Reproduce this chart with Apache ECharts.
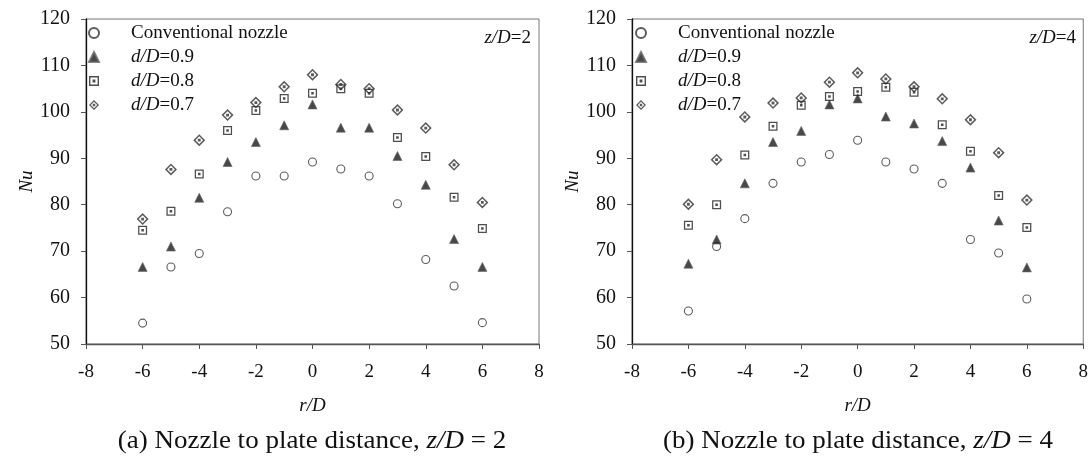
<!DOCTYPE html>
<html style="height: 100%">
<head>
    <meta charset="utf-8">
    <title>Nu vs r/D</title>
    <style>
        body { margin: 0; height: 100%; background: #fff; }
        #main { width: 1091px; height: 462px; }
    </style>
</head>
<body>
<div id="main"></div>
<script src="https://cdn.jsdelivr.net/npm/echarts@6/dist/echarts.min.js"></script>
<script>
    // r/D positions
    const rD = [-6, -5, -4, -3, -2, -1, 0, 1, 2, 3, 4, 5, 6];

    // (a) z/D = 2
    const conv2 = [54.5, 66.6, 69.5, 78.5, 86.2, 86.2, 89.2, 87.7, 86.2, 80.2, 68.2, 62.5, 54.6];
    const d09_2 = [66.6, 71.0, 81.5, 89.2, 93.5, 97.1, 101.6, 96.6, 96.6, 90.5, 84.3, 72.6, 66.6];
    const d08_2 = [74.5, 78.6, 86.6, 96.0, 100.3, 102.9, 104.0, 105.0, 104.0, 94.5, 90.4, 81.6, 74.9];
    const d07_2 = [76.9, 87.6, 93.9, 99.3, 102.0, 105.4, 108.0, 105.9, 105.0, 100.4, 96.5, 88.6, 80.5];

    // (b) z/D = 4
    const conv4 = [57.1, 71.0, 77.0, 84.6, 89.2, 90.8, 93.9, 89.2, 87.7, 84.6, 72.5, 69.6, 59.7];
    const d09_4 = [67.3, 72.5, 84.6, 93.5, 95.9, 101.6, 102.9, 99.0, 97.5, 93.7, 88.0, 76.6, 66.5];
    const d08_4 = [75.6, 80.0, 90.7, 96.9, 101.4, 103.3, 104.4, 105.3, 104.2, 97.2, 91.5, 82.0, 75.1];
    const d07_4 = [80.1, 89.7, 98.9, 101.9, 103.0, 106.4, 108.4, 107.1, 105.4, 102.8, 98.3, 91.2, 81.0];

    const xTicks = [-8, 8, 2];
    const yTicks = [50, 120, 10];
    const seriesNames = ['Conventional nozzle', 'd/D=0.9', 'd/D=0.8', 'd/D=0.7'];

    const FONT = '"Liberation Serif", "DejaVu Serif", serif';

    // hollow square / diamond with a dot in the middle (inner ring wound the other way)
    const squareDot = 'path://M0,0 L10,0 L10,10 L0,10 Z M1.4,1.4 L1.4,8.6 L8.6,8.6 L8.6,1.4 Z M3.6,3.6 L6.4,3.6 L6.4,6.4 L3.6,6.4 Z';
    const diamondDot = 'path://M5,0 L10,5 L5,10 L0,5 Z M5,1.8 L1.8,5 L5,8.2 L8.2,5 Z M3.8,3.8 L6.2,3.8 L6.2,6.2 L3.8,6.2 Z';

    const styles = [
        { symbol: 'circle', size: 8, itemStyle: { color: '#fff', borderColor: '#333', borderWidth: 1.1 } },
        { symbol: 'triangle', size: 9, itemStyle: { color: '#1a1a1a', borderColor: '#666', borderWidth: 0.8 } },
        { symbol: squareDot, size: 9, itemStyle: { color: '#222' } },
        { symbol: diamondDot, size: 12, itemStyle: { color: '#333' } }
    ];

    const pairs = arr => arr.map((v, i) => [rD[i], v]);

    const makeSeries = (sets, idx) => sets.map((arr, k) => ({
        name: seriesNames[k],
        type: 'scatter',
        xAxisIndex: idx,
        yAxisIndex: idx,
        symbol: styles[k].symbol,
        symbolSize: styles[k].size,
        itemStyle: styles[k].itemStyle,
        emphasis: { disabled: true },
        data: pairs(arr)
    }));

    const makeGrid = left => ({
        left: left, top: 19, width: left < 300 ? 453 : 452, height: 325,
        show: true, borderColor: '#777', borderWidth: 1, backgroundColor: 'transparent'
    });

    const makeX = idx => ({
        type: 'value', gridIndex: idx,
        min: xTicks[0], max: xTicks[1], interval: xTicks[2],
        name: 'r/D', nameLocation: 'middle', nameGap: 52,
        nameTextStyle: { fontFamily: FONT, fontSize: 19, fontStyle: 'italic', color: '#111' },
        axisLine: { onZero: false, lineStyle: { color: '#555', width: 1.3 } },
        axisTick: { length: 5, lineStyle: { color: '#555' } },
        axisLabel: { margin: 19, fontFamily: FONT, fontSize: 19, color: '#111' },
        splitLine: { show: false }
    });

    const makeY = idx => ({
        type: 'value', gridIndex: idx,
        min: yTicks[0], max: yTicks[1], interval: yTicks[2],
        name: 'Nu', nameLocation: 'middle', nameGap: 48, nameRotate: 90,
        nameTextStyle: { fontFamily: FONT, fontSize: 19, fontStyle: 'italic', color: '#111' },
        axisLine: { show: true, onZero: false, lineStyle: { color: '#111', width: 1.3 } },
        axisTick: { show: true, length: 5, lineStyle: { color: '#555' } },
        axisLabel: { margin: 16, fontFamily: FONT, fontSize: 20, color: '#111' },
        splitLine: { show: false }
    });

    const makeLegend = left => ({
        orient: 'vertical', left: left, top: 18,
        itemWidth: 10, itemHeight: 10, itemGap: 4,
        selectedMode: false,
        data: seriesNames,
        formatter: name => name.startsWith('d/D') ? '{i|d/D}' + name.slice(3) : name,
        textStyle: {
            fontFamily: FONT, fontSize: 19, color: '#111', lineHeight: 20,
            padding: [0, 0, 0, 27],
            rich: { i: { fontFamily: FONT, fontSize: 19, fontStyle: 'italic', color: '#111' } }
        }
    });

    const caption = (x, tag, z) => ({
        type: 'text', x: x, y: 441,
        style: {
            text: tag + ' Nozzle to plate distance, {i|z/D} = ' + z,
            align: 'center', verticalAlign: 'middle',
            font: '25px ' + FONT, fill: '#111',
            rich: { i: { font: 'italic 25px ' + FONT, fill: '#111' } }
        },
        scaleX: 1.08
    });

    const tagText = (x, z) => ({
        type: 'text', x: x, y: 38,
        style: {
            text: '{i|z/D}=' + z,
            align: 'right', verticalAlign: 'middle',
            font: '19px ' + FONT, fill: '#111',
            rich: { i: { font: 'italic 19px ' + FONT, fill: '#111' } }
        }
    });

    const chart = echarts.init(document.getElementById('main'), null, { renderer: 'canvas' });
    chart.setOption({
        animation: false,
        backgroundColor: '#fff',
        grid: [makeGrid(86), makeGrid(632)],
        xAxis: [makeX(0), makeX(1)],
        yAxis: [makeY(0), makeY(1)],
        legend: [makeLegend(83), makeLegend(630)],
        series: [
            ...makeSeries([conv2, d09_2, d08_2, d07_2], 0),
            ...makeSeries([conv4, d09_4, d08_4, d07_4], 1)
        ],
        graphic: [
            tagText(531, 2),
            tagText(1076, 4),
            caption(312, '(a)', 2),
            caption(858, '(b)', 4)
        ]
    });

    window.addEventListener('resize', () => chart.resize());
</script>
</body>
</html>
